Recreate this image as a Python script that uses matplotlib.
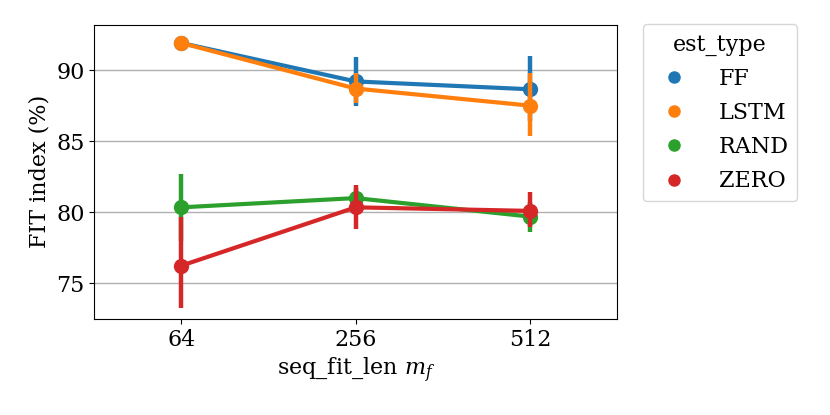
import numpy as np
import matplotlib.pyplot as plt
from matplotlib.lines import Line2D

plt.rcParams['font.family'] = ['DejaVu Serif']
plt.rcParams['mathtext.fontset'] = 'dejavuserif'

seq_fit_len = ["64", "256", "512"]
est_types = ["FF", "LSTM", "RAND", "ZERO"]
colors = ["#1f77b4", "#ff7f0e", "#2ca02c", "#d62728"]

fit_mean = {
    "FF":   [91.9, 89.2, 88.65],
    "LSTM": [91.9, 88.7, 87.5],
    "RAND": [80.35, 81.0, 79.7],
    "ZERO": [76.25, 80.35, 80.1],
}
fit_low = {
    "FF":   [91.5, 87.45, 86.4],
    "LSTM": [91.5, 87.65, 85.35],
    "RAND": [78.0, 80.3, 78.65],
    "ZERO": [73.3, 78.8, 78.95],
}
fit_high = {
    "FF":   [92.3, 90.95, 91.0],
    "LSTM": [92.3, 89.8, 89.8],
    "RAND": [82.7, 81.7, 80.7],
    "ZERO": [79.65, 81.9, 81.45],
}

fig = plt.figure(figsize=(8.3, 4.15), dpi=100)
ax = fig.add_axes([0.1136, 0.2313, 0.6298, 0.7096])

x = np.arange(len(seq_fit_len))
for name, c in zip(est_types, colors):
    ax.vlines(x, fit_low[name], fit_high[name], color=c, lw=3.2, zorder=3)
    ax.plot(x, fit_mean[name], color=c, lw=3.0, marker='o', ms=10, zorder=3)

ax.set_xlim(-0.5, 2.5)
ax.set_ylim(72.5, 93.2)
ax.set_xticks(x)
ax.set_xticklabels(seq_fit_len)
ax.set_yticks([75, 80, 85, 90])
ax.tick_params(labelsize=16)
ax.yaxis.grid(True, color='#b0b0b0', lw=1)
ax.set_axisbelow(True)
ax.set_xlabel("seq_fit_len $m_f$", fontsize=16)
ax.set_ylabel("FIT index (%)", fontsize=16)

handles = [Line2D([], [], marker='o', ls='', color=c, ms=8) for c in colors]
fig.legend(handles, est_types, title="est_type", fontsize=16, title_fontsize=16,
           loc='upper left', bbox_to_anchor=(643 / 830, 1 - 24.5 / 415),
           borderaxespad=0, handletextpad=1.0, labelspacing=0.55)

fig.savefig("out.png", dpi=100)
